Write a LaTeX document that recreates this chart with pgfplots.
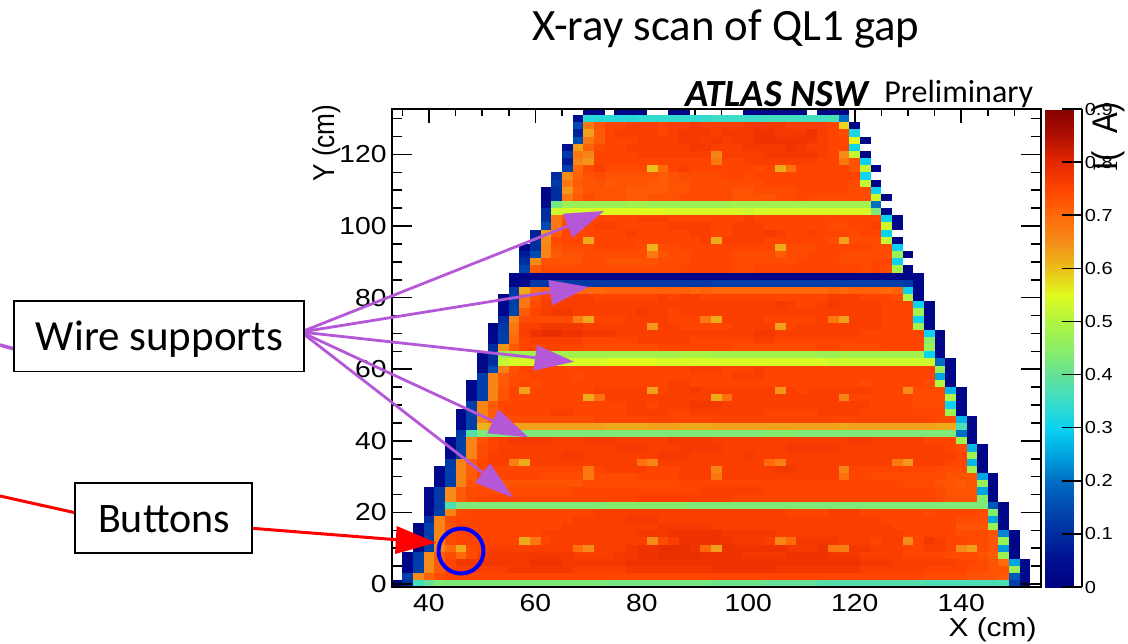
\documentclass[border=0pt]{standalone}
\usepackage{pgfplots}
\usepackage{pgfplotstable}
\usepackage{fontspec}
\pgfplotsset{compat=1.18}
\setmainfont{Carlito}
\newfontfamily\helv{Liberation Sans}
\newfontfamily\helvserif{Liberation Serif}
\definecolor{wire}{RGB}{180,88,216}
\pgfdeclareplotmark{cell}{\pgfpathrectangle{\pgfpoint{-2.661pt}{-1.79pt}}{\pgfpoint{5.322pt}{3.58pt}}\pgfusepathqfill}
\pgfplotstableread{
v c1 c2 c3 c4 c5 c6 c7 c8 c9 c10 c11 c12 c13 c14 c15 c16 c17 c18 c19 c20 c21 c22 c23 c24 c25 c26 c27 c28 c29 c30 c31 c32 c33 c34 c35 c36 c37 c38 c39 c40 c41 c42 c43 c44 c45 c46 c47 c48 c49 c50 c51 c52 c53 c54 c55 c56 c57 c58 c59 c60
132 0 0 0 0 0 0 0 0 0 0  0 0 0 0 0 0 0 0 2 2  0 2 2 2 0 0 2 2 0 0  0 0 0 2 2 2 2 2 2 0  2 2 2 0 0 0 0 0 0 0  0 0 0 0 0 0 0 0 0 0
130 0 0 0 0 0 0 0 0 0 0  0 0 0 0 0 0 0 5 33 33  33 33 33 34 34 34 34 34 34 34  35 35 35 35 35 36 36 36 36 36  36 37 20 0 0 0 0 0 0 0  0 0 0 0 0 0 0 0 0 0
128 0 0 0 0 0 0 0 0 0 0  0 0 0 0 0 0 0 15 68 73  75 75 76 76 76 75 76 76 77 76  76 76 76 77 77 77 77 76 76 76  76 75 58 3 0 0 0 0 0 0  0 0 0 0 0 0 0 0 0 0
126 0 0 0 0 0 0 0 0 0 0  0 0 0 0 0 0 0 8 63 72  75 76 76 76 76 75 76 77 77 77  76 77 77 77 78 78 77 77 77 78  76 75 74 32 0 0 0 0 0 0  0 0 0 0 0 0 0 0 0 0
124 0 0 0 0 0 0 0 0 0 0  0 0 0 0 0 0 0 15 68 72  75 75 75 76 76 76 76 77 77 76  77 76 77 77 78 78 78 78 78 77  76 75 75 55 2 0 0 0 0 0  0 0 0 0 0 0 0 0 0 0
122 0 0 0 0 0 0 0 0 0 0  0 0 0 0 0 0 5 63 71 74  75 75 76 76 76 76 76 76 77 77  76 76 76 77 77 77 77 78 77 76  76 75 75 31 0 0 0 0 0 0  0 0 0 0 0 0 0 0 0 0
120 0 0 0 0 0 0 0 0 0 0  0 0 0 0 0 0 12 68 66 75  75 75 75 76 76 76 76 76 76 76  66 76 76 76 76 77 77 77 77 77  76 75 65 52 2 0 0 0 0 0  0 0 0 0 0 0 0 0 0 0
118 0 0 0 0 0 0 0 0 0 0  0 0 0 0 0 0 7 66 64 75  75 75 75 75 75 75 75 75 75 75  68 75 75 76 76 76 76 76 76 76  75 75 68 73 30 0 0 0 0 0  0 0 0 0 0 0 0 0 0 0
116 0 0 0 0 0 0 0 0 0 0  0 0 0 0 0 0 13 70 74 76  74 74 74 74 60 70 75 76 75 75  75 75 75 75 74 75 62 69 75 75  75 75 75 73 52 2 0 0 0 0  0 0 0 0 0 0 0 0 0 0
114 0 0 0 0 0 0 0 0 0 0  0 0 0 0 0 10 65 71 73 74  73 73 73 73 73 72 73 74 74 74  74 75 75 74 75 75 75 75 75 75  75 75 75 75 31 0 0 0 0 0  0 0 0 0 0 0 0 0 0 0
112 0 0 0 0 0 0 0 0 0 0  0 0 0 0 0 12 68 72 73 73  72 73 73 73 72 72 73 73 74 74  74 74 74 74 74 75 75 75 75 75  75 75 75 74 52 2 0 0 0 0  0 0 0 0 0 0 0 0 0 0
110 0 0 0 0 0 0 0 0 0 0  0 0 0 0 2 10 64 71 73 73  73 73 72 72 72 72 73 73 74 74  74 74 73 73 74 74 74 74 75 75  75 75 75 74 74 30 0 0 0 0  0 0 0 0 0 0 0 0 0 0
108 0 0 0 0 0 0 0 0 0 0  0 0 0 0 2 10 68 72 74 73  73 73 72 72 73 73 73 74 74 74  74 74 73 73 73 73 74 74 75 74  74 74 74 74 74 53 2 0 0 0  0 0 0 0 0 0 0 0 0 0
106 0 0 0 0 0 0 0 0 0 0  0 0 0 0 4 42 47 47 47 47  47 47 48 48 47 47 47 47 47 47  47 47 48 48 48 48 48 48 48 48  48 48 48 48 48 20 0 0 0 0  0 0 0 0 0 0 0 0 0 0
104 0 0 0 0 0 0 0 0 0 0  0 0 0 0 10 53 54 54 54 54  55 55 55 55 55 55 54 54 54 54  54 54 54 53 54 54 54 54 54 54  54 54 54 54 54 43 2 0 0 0  0 0 0 0 0 0 0 0 0 0
102 0 0 0 0 0 0 0 0 0 0  0 0 0 0 10 68 73 74 75 75  75 75 75 76 76 76 75 75 75 75  75 75 75 76 75 75 75 75 75 75  75 75 75 75 75 75 30 2 0 0  0 0 0 0 0 0 0 0 0 0
100 0 0 0 0 0 0 0 0 0 0  0 0 0 0 15 68 74 75 75 76  76 75 75 75 75 75 76 76 76 76  75 75 76 76 76 75 75 75 75 75  75 74 74 75 75 76 53 2 0 0  0 0 0 0 0 0 0 0 0 0
98 0 0 0 0 0 0 0 0 0 0  0 0 0 8 63 72 75 75 75 75  75 75 76 75 75 75 75 75 76 76  75 75 76 76 76 77 76 75 75 76  75 75 75 74 75 75 30 0 0 0  0 0 0 0 0 0 0 0 0 0
96 0 0 0 0 0 0 0 0 0 0  0 0 0 10 65 74 75 75 62 75  75 75 75 75 75 75 75 75 75 76  62 76 76 76 76 75 75 75 75 75  75 74 63 74 74 74 52 2 0 0  0 0 0 0 0 0 0 0 0 0
94 0 0 0 0 0 0 0 0 0 0  0 0 3 10 66 73 74 74 74 75  75 75 75 74 61 74 74 75 75 75  75 75 75 75 75 75 62 74 74 74  75 75 75 75 75 74 74 30 0 0  0 0 0 0 0 0 0 0 0 0
92 0 0 0 0 0 0 0 0 0 0  0 0 7 15 66 72 73 73 74 74  74 74 74 74 68 73 74 74 75 75  75 75 74 74 74 74 72 74 74 75  75 75 74 74 74 74 74 47 2 0  0 0 0 0 0 0 0 0 0 0
90 0 0 0 0 0 0 0 0 0 0  0 0 10 65 73 73 73 73 74 74  73 73 73 73 73 74 74 74 75 75  75 75 74 74 74 74 74 74 75 75  75 75 74 74 74 75 75 30 0 0  0 0 0 0 0 0 0 0 0 0
88 0 0 0 0 0 0 0 0 0 0  0 0 14 72 74 74 74 74 74 74  74 74 74 74 74 74 74 75 75 75  75 75 74 74 75 75 75 75 75 75  75 75 75 75 74 75 74 49 2 0  0 0 0 0 0 0 0 0 0 0
86 0 0 0 0 0 0 0 0 0 0  0 2 2 2 2 2 2 2 2 2  2 2 2 2 2 2 2 2 2 2  2 2 2 2 2 2 2 2 2 2  2 2 2 2 2 2 2 2 2 2  0 0 0 0 0 0 0 0 0 0
84 0 0 0 0 0 0 0 0 0 0  0 2 3 12 12 12 12 12 12 12  12 12 12 12 12 12 12 12 12 12  13 13 13 13 13 13 13 13 13 13  13 13 13 13 13 13 13 13 12 2  0 0 0 0 0 0 0 0 0 0
82 0 0 0 0 0 0 0 0 0 0  0 12 62 69 70 70 70 70 70 70  71 71 71 71 71 71 71 71 70 71  70 70 70 70 70 70 70 70 70 70  70 71 70 71 71 71 70 71 30 2  0 0 0 0 0 0 0 0 0 0
80 0 0 0 0 0 0 0 0 0 0  3 13 68 73 75 76 76 76 76 75  75 75 75 75 75 76 75 76 76 75  75 75 75 75 75 75 75 75 75 75  75 76 76 76 75 75 75 74 50 2  0 0 0 0 0 0 0 0 0 0
78 0 0 0 0 0 0 0 0 0 0  3 13 68 74 76 76 76 76 76 76  76 76 76 76 76 76 76 76 76 76  76 76 76 76 76 76 77 76 75 75  76 77 76 76 76 76 75 75 75 30  2 0 0 0 0 0 0 0 0 0
76 0 0 0 0 0 0 0 0 0 0  3 14 72 75 76 77 77 76 76 76  76 76 76 77 76 76 75 76 76 76  76 76 76 76 76 76 76 76 76 76  76 76 76 76 76 76 75 75 75 48  2 0 0 0 0 0 0 0 0 0
74 0 0 0 0 0 0 0 0 0 0  10 66 74 74 74 74 74 67 62 75  75 75 76 76 76 76 75 75 75 68  62 76 76 76 76 75 75 75 75 75  76 68 63 76 76 76 75 75 75 30  2 0 0 0 0 0 0 0 0 0
72 0 0 0 0 0 0 0 0 0 2  12 68 76 76 77 77 77 77 76 76  76 76 76 76 64 76 76 75 75 75  75 75 76 76 76 76 63 75 76 76  76 76 76 76 76 76 75 75 75 48  2 0 0 0 0 0 0 0 0 0
70 0 0 0 0 0 0 0 0 0 3  13 69 76 78 79 79 78 78 77 77  77 76 76 76 76 76 76 76 76 76  76 76 76 76 77 77 76 76 76 76  76 76 76 76 75 75 75 75 75 75  30 2 0 0 0 0 0 0 0 0
68 0 0 0 0 0 0 0 0 0 3  13 70 75 76 76 76 76 76 75 75  75 75 75 76 76 76 76 76 75 75  75 75 75 75 76 76 75 75 75 75  75 75 75 75 75 75 75 75 75 75  45 2 0 0 0 0 0 0 0 0
66 0 0 0 0 0 0 0 0 0 10  64 72 75 75 75 75 75 75 74 74  74 74 74 74 74 75 75 75 75 75  75 75 74 74 74 74 74 74 74 74  75 75 74 74 74 74 75 75 75 75  47 2 0 0 0 0 0 0 0 0
64 0 0 0 0 0 0 0 0 3 10  47 48 48 48 48 48 48 48 48 48  48 48 48 48 48 48 48 49 49 49  48 48 48 48 48 48 48 48 48 48  47 47 48 48 48 48 48 48 48 48  30 2 0 0 0 0 0 0 0 0
62 0 0 0 0 0 0 0 0 3 10  52 54 54 54 54 54 54 54 54 54  55 55 55 55 55 54 54 54 54 54  54 54 54 54 54 54 54 54 54 54  54 53 53 53 53 53 53 53 53 53  53 20 2 0 0 0 0 0 0 0
60 0 0 0 0 0 0 0 0 3 15  67 73 75 75 75 75 75 75 75 75  75 75 75 75 75 75 75 75 76 76  76 75 75 75 76 75 75 75 75 75  75 75 75 75 75 75 75 75 75 75  75 47 2 0 0 0 0 0 0 0
58 0 0 0 0 0 0 0 0 13 66  72 74 74 75 75 75 75 74 75 75  75 75 75 75 75 75 75 75 75 75  75 75 76 76 76 75 75 75 75 75  75 75 75 75 75 75 75 75 75 75  75 25 2 0 0 0 0 0 0 0
56 0 0 0 0 0 0 0 3 13 66  72 74 75 74 75 75 75 75 75 75  75 75 75 75 75 75 76 76 75 75  75 75 75 75 75 75 75 75 75 75  75 75 75 75 74 75 75 75 75 75  74 50 2 0 0 0 0 0 0 0
54 0 0 0 0 0 0 0 3 13 66  73 75 63 75 75 75 75 75 75 76  76 76 76 76 63 75 76 76 77 76  76 76 76 76 76 76 64 76 75 76  76 76 76 76 76 75 75 75 65 74  74 74 27 2 0 0 0 0 0 0
52 0 0 0 0 0 0 0 3 13 66  73 75 75 75 75 75 75 75 62 69  76 76 76 76 76 76 76 76 76 76  62 69 76 76 76 76 76 76 76 76  76 76 66 75 75 75 75 75 75 74  74 74 50 2 0 0 0 0 0 0
50 0 0 0 0 0 0 0 13 66 72  75 75 75 75 75 75 75 75 75 75  75 75 76 76 75 76 76 76 77 77  77 76 76 76 76 76 76 76 76 76  76 76 76 76 76 75 75 75 75 74  74 74 30 2 0 0 0 0 0 0
48 0 0 0 0 0 0 3 13 66 72  75 75 75 75 75 76 76 75 75 75  75 75 76 76 76 76 75 75 76 76  76 76 76 76 76 75 75 75 75 75  76 76 76 76 75 75 75 75 75 75  75 75 47 2 0 0 0 0 0 0
46 0 0 0 0 0 0 3 13 66 72  74 74 74 74 74 74 74 74 74 75  75 75 75 75 75 75 75 75 75 75  75 75 75 75 75 75 75 75 75 75  75 75 75 75 75 75 75 75 75 75  75 74 74 27 2 0 0 0 0 0
44 0 0 0 0 0 0 3 13 61 62  63 63 63 63 63 63 63 63 63 63  62 62 62 62 63 63 63 62 62 62  63 63 63 63 63 63 63 63 63 63  63 63 62 63 63 63 63 63 63 63  63 62 62 37 2 0 0 0 0 0
42 0 0 0 0 0 0 12 38 43 43  43 43 43 43 43 43 43 43 43 43  43 43 43 43 43 43 43 43 43 43  43 43 43 43 43 44 44 44 43 43  43 43 43 43 43 43 43 43 43 43  43 43 43 20 2 0 0 0 0 0
40 0 0 0 0 0 3 13 66 73 75  76 77 77 77 77 76 76 76 77 77  77 76 76 76 76 76 77 77 77 77  76 76 76 76 76 76 76 76 76 76  76 76 76 77 77 76 76 76 76 76  75 75 75 48 2 0 0 0 0 0
38 0 0 0 0 0 3 13 66 74 75  76 76 76 76 76 76 76 76 76 76  76 77 77 77 76 76 76 77 77 77  77 76 76 76 76 76 76 77 77 77  77 77 76 76 76 76 76 76 76 76  76 76 75 74 27 2 0 0 0 0
36 0 0 0 0 0 3 13 66 74 76  76 76 76 76 76 76 77 77 76 76  76 76 76 76 76 77 77 77 76 76  76 76 76 77 76 76 76 76 76 76  76 76 76 76 76 76 76 76 76 76  76 76 76 75 48 2 0 0 0 0
34 0 0 0 0 0 12 66 72 75 76  76 67 62 76 76 76 76 76 76 76  76 76 76 69 66 76 76 76 76 76  76 76 76 76 76 70 67 76 76 76  76 76 76 76 76 76 76 68 64 76  76 76 75 75 27 2 0 0 0 0
32 0 0 0 0 3 13 66 72 75 75  75 75 75 75 75 75 75 75 68 75  76 76 76 76 75 75 75 76 76 76  66 76 76 76 76 76 77 77 76 76  76 76 66 75 75 75 75 75 75 75  75 74 74 74 48 2 0 0 0 0
30 0 0 0 0 3 13 66 72 75 75  75 75 75 75 74 74 74 74 68 74  74 74 74 75 75 75 75 76 76 76  68 76 76 76 76 76 76 76 76 76  76 76 69 75 75 74 74 74 74 74  74 74 73 73 73 25 2 0 0 0
28 0 0 0 0 3 13 66 73 74 74  73 73 73 73 73 73 73 73 74 74  74 74 74 74 74 74 74 75 75 75  75 75 75 75 75 75 75 75 75 75  75 75 75 75 75 75 75 75 74 74  74 73 73 72 73 46 2 0 0 0
26 0 0 0 3 12 65 72 74 74 74  74 74 74 74 74 74 74 75 75 75  75 75 75 75 75 75 75 75 75 76  76 76 76 76 76 75 75 75 75 75  75 75 75 75 75 75 75 75 75 75  75 74 73 73 73 25 2 0 0 0
24 0 0 0 3 12 65 72 74 75 75  75 75 75 75 75 75 75 75 75 75  75 75 75 76 76 76 76 76 76 76  76 76 75 75 75 75 75 75 75 75  75 75 75 75 75 75 75 75 75 75  75 74 73 73 73 44 2 0 0 0
22 0 0 0 3 12 37 43 43 43 43  43 43 43 43 43 43 43 43 43 43  44 44 44 44 44 44 44 44 43 43  43 43 43 43 43 43 43 43 43 43  43 43 43 43 43 43 43 43 43 43  43 43 43 43 43 43 17 2 0 0
20 0 0 0 3 13 66 74 75 75 75  75 75 75 75 75 75 75 75 75 76  76 76 76 76 76 76 76 76 76 76  76 76 76 76 76 76 76 75 75 75  75 76 76 76 75 75 75 75 75 75  74 75 75 75 75 74 44 2 0 0
18 0 0 0 10 66 74 75 75 75 75  75 75 75 75 75 75 75 76 76 76  76 76 77 77 77 76 76 76 76 76  76 76 76 76 76 76 76 76 76 76  76 76 76 76 76 76 75 75 75 75  75 75 75 74 74 74 25 2 0 0
16 0 0 2 13 66 73 75 75 75 75  75 75 75 75 75 75 76 76 76 76  76 76 76 76 76 77 77 77 77 77  76 76 76 76 76 76 76 76 76 76  76 76 76 76 76 76 76 75 75 75  75 75 75 73 73 73 47 2 0 0
14 0 0 2 13 66 74 75 75 75 75  75 75 75 75 76 76 76 76 76 76  76 76 76 77 77 77 78 78 78 78  78 77 77 77 77 77 76 76 76 76  76 76 76 76 76 76 76 76 75 75  75 75 75 74 74 74 73 22 2 0
12 0 0 2 13 66 74 75 75 75 75  75 75 62 68 75 76 76 76 76 76  76 76 76 76 65 74 76 78 78 78  78 78 77 77 77 76 66 70 77 77  77 77 76 76 76 75 76 76 65 75  77 76 75 75 74 74 73 47 2 0
10 0 0 2 13 66 70 62 74 75 76  76 76 76 76 76 76 76 69 65 76  76 76 77 78 78 79 79 79 78 70  63 78 78 78 78 78 78 77 77 77  78 68 67 77 77 76 76 76 75 75  76 76 75 65 63 74 73 24 2 0
8 0 2 13 65 72 74 70 74 76 77  77 77 77 77 77 77 77 76 76 76  76 77 77 78 78 79 79 79 79 78  78 78 78 77 77 77 77 78 78 78  78 77 77 77 76 76 76 76 75 75  75 75 74 74 74 73 72 47 2 0
6 0 2 13 65 72 75 77 77 77 77  77 77 77 78 78 78 77 77 77 77  77 77 78 78 78 78 78 78 78 78  78 78 78 78 78 78 78 78 78 78  78 78 78 78 77 77 77 76 76 76  76 76 76 75 75 74 73 70 25 3
4 0 2 13 65 72 75 76 76 76 76  76 77 77 77 77 77 77 76 76 76  76 76 77 77 77 77 77 77 77 77  78 78 78 78 78 78 77 77 77 77  77 77 77 77 76 76 76 76 76 76  75 75 75 75 74 74 73 73 47 3
2 0 13 65 71 74 75 75 75 75 75  75 75 75 75 75 75 75 75 75 75  75 75 75 75 75 75 75 75 75 75  75 75 75 75 75 75 75 75 75 75  75 75 75 75 75 75 75 75 75 75  74 74 74 74 73 73 73 72 17 3
0 2 10 36 40 43 43 43 43 43 43  43 43 43 43 43 43 43 43 43 43  42 42 42 42 42 42 42 42 42 42  41 41 41 41 41 40 40 40 40 40  38 38 38 38 38 38 38 38 38 38  37 37 37 37 37 37 37 37 13 4
}\heat
\begin{document}
\begin{tikzpicture}
\useasboundingbox (0,0) rectangle (564pt,-321.5pt);
\begin{axis}[
  at={(195.85pt,-293.5pt)},anchor=south west,
  scale only axis,width=324.65pt,height=239pt,
  xmin=33,xmax=155,ymin=-0.84,ymax=132.7,
  axis on top,axis line style={line width=0.8pt},
  tick style={line width=0.8pt,black},
  tick align=inside,
  major tick length=7pt,minor tick length=3.5pt,
  xtick={40,60,...,140},minor xtick={35,40,...,155},
  ytick=\empty,
  xticklabel style={font=\helv\fontsize{12.3}{14}\selectfont,xscale=1.15},
  /pgf/number format/assume math mode=true,
  colormap={root}{rgb255=(0,0,130) rgb255=(0,15,145) rgb255=(0,45,160) rgb255=(0,75,175) rgb255=(0,110,195) rgb255=(0,165,225) rgb255=(10,210,240) rgb255=(60,220,200) rgb255=(100,225,150) rgb255=(140,238,100) rgb255=(175,245,65) rgb255=(225,250,30) rgb255=(235,190,25) rgb255=(245,140,25) rgb255=(255,105,10) rgb255=(255,68,0) rgb255=(228,40,0) rgb255=(175,15,0) rgb255=(130,0,0)},
  colormap name=root,
  point meta min=0,point meta max=90,
  colorbar,
  colorbar style={
    at={(parent axis.south east)},anchor=south west,xshift=-6.5pt,
    scale only axis,width=18.5pt,height=239pt,
    axis x line=none,axis y line*=right,
    axis line style={line width=0.8pt},
    tick align=inside,major tick length=10pt,
    tick style={line width=0.8pt,black},
    ytick={0,10,...,90},yticklabels={0,0.1,0.2,0.3,0.4,0.5,0.6,0.7,0.8,0.9},
    yticklabel style={font=\helv\fontsize{8.7}{10}\selectfont,xscale=1.15,inner xsep=1pt},
  },
]
\pgfplotsinvokeforeach{1,...,60}{
  \addplot[scatter,only marks,mark=cell,scatter/use mapped color={fill=mapped color},
    point meta=\thisrow{c#1},
    restrict expr to domain={\thisrow{c#1}}{1:100}]
    table[x expr={32+2*#1},y=v] {\heat};
}
\end{axis}
\begin{axis}[
  at={(195.85pt,-293.5pt)},anchor=south west,
  scale only axis,width=324.65pt,height=239pt,
  xmin=33,xmax=155,ymin=-0.84,ymax=132.7,
  axis line style={line width=0.8pt},
  tick style={line width=0.8pt,black},
  tick align=inside,
  major tick length=10pt,minor tick length=5pt,
  xtick=\empty,
  ytick={0,20,...,120},minor ytick={0,5,...,130},
  yticklabel style={font=\helv\fontsize{12.3}{14}\selectfont,xscale=1.15,inner xsep=2pt},
  /pgf/number format/assume math mode=true,
]
\end{axis}
\begin{scope}[x=0.5pt,y=-0.5pt]
\node[font=\helv\fontsize{13}{15}\selectfont,xscale=1.15,anchor=east,inner sep=0pt] at (1037,630) {X (cm)};
\node[font=\helv\fontsize{13.1}{15}\selectfont,xscale=1.15,rotate=90] at (327,143) {Y (cm)};
\node[font=\helv\fontsize{15.5}{17}\selectfont,xscale=1.15,rotate=90] at (1108,137) {{\helvserif I}(\ \ A)};
\node[font=\fontsize{22.4}{26}\selectfont] at (726,29) {X-ray scan of QL1 gap};
\node[font=\bfseries\itshape\fontsize{19.2}{22}\selectfont,anchor=west,inner sep=0pt] at (685,94) {ATLAS NSW};
\node[font=\fontsize{16}{19}\selectfont,anchor=west,inner sep=0pt] at (884,94) {Preliminary};
\draw[blue,line width=2pt] (461,551) circle (22.5);
\draw[red,line width=1.5pt] (0,496)--(75,512.7);
\draw[red,line width=1.5pt] (252.3,528.3)--(400,540);
\fill[red] (436,542.7)--(396.7,526)--(395,554)--cycle;
\draw[wire,line width=1.8pt] (0,345)--(14.3,349);
\draw[wire,line width=1.4pt] (301,332)--(568,226);
\fill[wire] (604,211)--(563,213.7)--(572.3,237.7)--cycle;
\draw[wire,line width=1.4pt] (301,332)--(550,292);
\fill[wire] (588.7,287)--(548.3,280)--(552.3,305.3)--cycle;
\draw[wire,line width=1.4pt] (301,332)--(538,358);
\fill[wire] (574,361.7)--(533.3,370.7)--(537,345)--cycle;
\draw[wire,line width=1.4pt] (301,332)--(493,421);
\fill[wire] (528.3,437.3)--(498.3,409.3)--(487.3,433.3)--cycle;
\draw[wire,line width=1.4pt] (301,332)--(483,473);
\fill[wire] (513.3,497.7)--(490,463.3)--(475,482.7)--cycle;
\node[draw,line width=0.85pt,fill=white,minimum width=145pt,minimum height=35.3pt,inner sep=0pt] at (159.3,336.3) {};
\node[font=\fontsize{21.5}{24}\selectfont,inner sep=0pt] at (159.5,339) {Wire supports};
\node[draw,line width=0.85pt,fill=white,minimum width=88.6pt,minimum height=35.3pt,inner sep=0pt] at (163.6,518) {};
\node[font=\fontsize{21}{24}\selectfont,inner sep=0pt] at (164,519) {Buttons};
\end{scope}
\end{tikzpicture}
\end{document}
